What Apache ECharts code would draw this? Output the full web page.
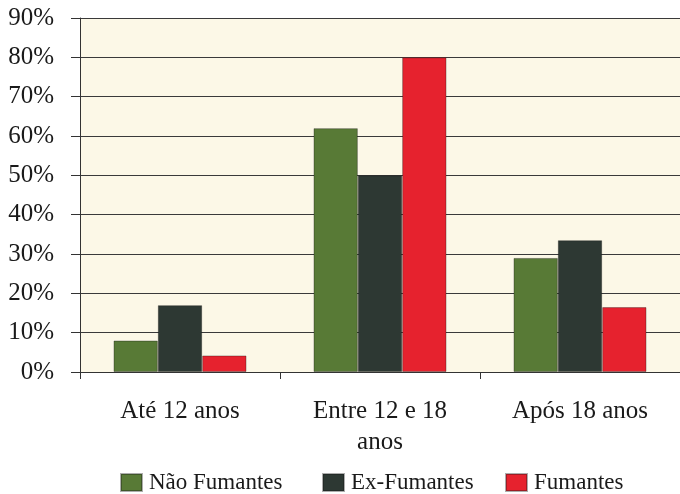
<!DOCTYPE html>
<html>
<head>
<meta charset="utf-8">
<script src="https://cdn.jsdelivr.net/npm/echarts@6/dist/echarts.min.js"></script>
<style>
html,body{margin:0;padding:0;background:#ffffff;}
#chart{width:680px;height:494px;}
</style>
</head>
<body>
<div id="chart"></div>
<script>
const categories = ['Até 12 anos', 'Entre 12 e 18\nanos', 'Após 18 anos'];
const seriesNames = ['Não Fumantes', 'Ex-Fumantes', 'Fumantes'];
const naoFumantes = [8, 62, 29];
const exFumantes = [17, 50, 33.5];
const fumantes = [4.2, 80, 16.5];
const yMin = 0, yMax = 90, yStep = 10;
const colors = ['#587a36', '#2d3833', '#e6222e'];

const font = '"Liberation Serif", "Times New Roman", serif';
const chart = echarts.init(document.getElementById('chart'));
const values = [naoFumantes, exFumantes, fumantes];
const legendLeft = [120, 322, 505];
chart.setOption({
  animation: false,
  backgroundColor: '#ffffff',
  grid: {
    left: 80, top: 18, width: 606, height: 354,
    show: true, backgroundColor: '#fcf8e7', borderWidth: 0
  },
  legend: seriesNames.map((n, i) => ({
    bottom: 0, left: legendLeft[i], padding: 0,
    itemWidth: 21, itemHeight: 17, itemGap: 0,
    icon: 'rect',
    textStyle: { fontFamily: font, fontSize: 23, color: '#1a1a1a', padding: [0, 0, 0, 2] },
    data: [n]
  })),
  xAxis: {
    type: 'category',
    data: categories,
    axisLine: { lineStyle: { color: '#333', width: 1 } },
    axisTick: { show: true, length: 7, lineStyle: { color: '#333' } },
    axisLabel: { fontFamily: font, fontSize: 25, color: '#1a1a1a', margin: 24, lineHeight: 31 }
  },
  yAxis: {
    type: 'value',
    min: yMin, max: yMax, interval: yStep,
    axisLine: { show: true, lineStyle: { color: '#333', width: 1 } },
    axisTick: { show: true, length: 9, lineStyle: { color: '#333' } },
    splitLine: { lineStyle: { color: '#3a3a3a', width: 1 } },
    axisLabel: { fontFamily: font, fontSize: 25, color: '#1a1a1a', margin: 26, formatter: v => v + '%' }
  },
  series: seriesNames.map((n, i) => ({
    name: n, type: 'bar', data: values[i],
    barGap: '0%', barCategoryGap: '33.5%',
    itemStyle: { color: colors[i], borderColor: 'rgba(20,20,20,0.35)', borderWidth: 1 }
  }))
});
</script>
</body>
</html>
